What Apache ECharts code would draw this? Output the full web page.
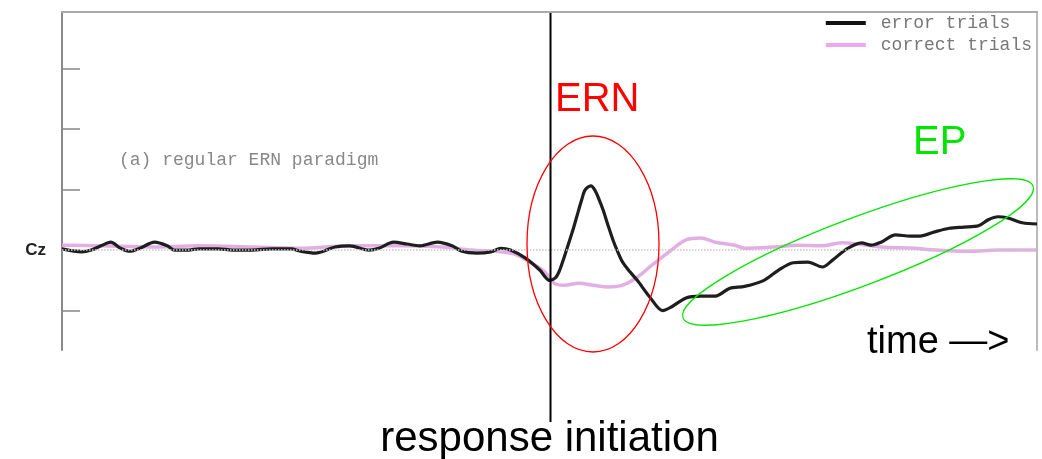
<!DOCTYPE html>
<html>
<head>
<meta charset="utf-8">
<script src="https://cdn.jsdelivr.net/npm/echarts@6/dist/echarts.min.js"></script>
<style>
  html, body { margin: 0; padding: 0; background: #fff; }
  #chart { width: 1042px; height: 459px; }
</style>
</head>
<body>
<div id="chart"></div>
<script>
// Grand-average waveform at electrode Cz, time locked to the response (0 ms).
const timesError = [-500,-480,-470,-460,-450,-440,-430,-420,-405,-392,-385,-370,-360,-340,-325,-305,-285,-265,-255,-240,-220,-205,-185,-175,-160,-146,-133,-115,-100,-90,-75,-60,-50,-40,-25,-10,0,6,10,14,19,24,29,33,36,39.5,42.5,46.5,51,55,60,65,70,75,82.5,90,103,116,125,140,155,170,185,200,220,235,250,265,280,290,305,320,330,340,355,370,380,395,410,425,440,450,460,470,485,500];
const errorTrials = [0.02,-0.03,0.0,0.07,0.13,0.03,-0.02,0.03,0.13,0.07,0.0,0.0,0.02,0.02,0.0,0.0,0.02,0.02,-0.02,-0.05,0.05,0.07,0.0,0.03,0.13,0.10,0.07,0.13,0.07,-0.02,-0.05,-0.03,0.03,0.0,-0.13,-0.33,-0.50,-0.46,-0.35,-0.17,0.08,0.33,0.61,0.83,0.98,1.04,1.06,0.99,0.83,0.66,0.41,0.17,-0.03,-0.20,-0.36,-0.50,-0.78,-1.00,-0.94,-0.79,-0.76,-0.76,-0.63,-0.60,-0.50,-0.33,-0.21,-0.20,-0.28,-0.17,0.02,0.12,0.08,0.13,0.25,0.23,0.23,0.30,0.36,0.38,0.40,0.50,0.55,0.53,0.45,0.43];

const timesCorrect = [-500,-460,-410,-360,-305,-255,-205,-155,-110,-80,-50,-35,-20,-5,5,15,30,45,60,75,90,105,125,140,155,170,190,200,230,255,280,300,315,340,375,395,430,460,500];
const correctTrials = [0.08,0.07,0.05,0.07,0.05,0.03,0.07,0.07,0.05,0.0,-0.03,-0.07,-0.20,-0.36,-0.55,-0.58,-0.55,-0.58,-0.61,-0.58,-0.45,-0.25,0.0,0.17,0.20,0.13,0.08,0.03,0.05,0.08,0.07,0.12,0.10,0.05,0.03,0.0,-0.02,0.0,0.0];

const seriesNames = ['error trials', 'correct trials'];
const yTicks = [-1, 0, 1, 2, 3];
const yLabelValues = [0];
const yLabelText = 'Cz';
const responseTime = 0;

function pairs(xs, ys) { return xs.map((x, i) => [x, ys[i]]); }

const chart = echarts.init(document.getElementById('chart'), null, { renderer: 'canvas' });

const option = {
  backgroundColor: '#ffffff',
  animation: false,
  grid: { left: 62, right: 5, top: 12, bottom: 109, containLabel: false },
  legend: {
    data: seriesNames,
    orient: 'vertical',
    right: 10,
    top: 14,
    padding: 0,
    itemGap: 4,
    itemWidth: 40,
    itemHeight: 4,
    icon: 'rect',
    textStyle: { fontFamily: 'Liberation Mono', fontSize: 18, color: '#777', padding: [0, 0, 0, 10] }
  },
  xAxis: {
    type: 'value', min: -500, max: 500, position: 'top',
    axisLine: { show: true, onZero: false, lineStyle: { color: '#aaa', width: 2 } },
    axisTick: { show: false }, axisLabel: { show: false }, splitLine: { show: false }
  },
  yAxis: [
    {
      type: 'value', min: -1.65, max: 3.93, position: 'left',
      axisLine: { show: true, onZero: false, lineStyle: { color: '#8a8a8a', width: 2 } },
      axisTick: { show: true, inside: true, length: 18, customValues: yTicks, lineStyle: { color: '#888', width: 1.5 } },
      axisLabel: {
        show: true, customValues: yLabelValues, margin: 16,
        formatter: () => yLabelText,
        fontFamily: 'Liberation Sans', fontWeight: 'bold', fontSize: 17, color: '#222'
      },
      splitLine: { show: false }
    },
    {
      type: 'value', min: -1.65, max: 3.93, position: 'right',
      axisLine: { show: true, onZero: false, lineStyle: { color: '#bbb', width: 2 } },
      axisTick: { show: false }, axisLabel: { show: false }, splitLine: { show: false }
    }
  ],
  series: [
    {
      name: seriesNames[1], type: 'line', data: pairs(timesCorrect, correctTrials),
      smooth: 0.35, showSymbol: false, z: 2,
      itemStyle: { color: '#f2a6f2' },
      lineStyle: { color: 'rgba(222,160,222,0.85)', width: 3.5 },
      markLine: {
        silent: true, symbol: 'none', label: { show: false },
        lineStyle: { color: '#c8c8c8', type: 'dotted', width: 1.5 },
        data: [{ yAxis: 0 }]
      }
    },
    {
      name: seriesNames[0], type: 'line', data: pairs(timesError, errorTrials),
      smooth: 0.3, showSymbol: false, z: 3,
      itemStyle: { color: '#111' },
      lineStyle: { color: '#1e1e1e', width: 3.2 }
    }
  ]
};
chart.setOption(option);

// Annotations: response marker, component labels and outlines.
const rx = chart.convertToPixel({ xAxisIndex: 0 }, responseTime);
chart.setOption({
  graphic: [
    { type: 'line', z: 10, shape: { x1: rx + 1, y1: 13, x2: rx + 1, y2: 422 }, style: { stroke: '#000', lineWidth: 2 } },
    { type: 'text', z: 10, style: { text: 'response initiation', x: rx, y: 439, font: '42px "Liberation Sans"', fill: '#000', align: 'center', verticalAlign: 'middle' } },
    { type: 'text', z: 10, style: { text: '(a) regular ERN paradigm', x: 119, y: 160, font: '18px "Liberation Mono"', fill: '#888', align: 'left', verticalAlign: 'middle' } },
    { type: 'text', z: 10, style: { text: 'ERN', x: 555, y: 100, font: '40px "Liberation Sans"', fill: '#ff0000', align: 'left', verticalAlign: 'middle' } },
    { type: 'ellipse', z: 10, shape: { cx: 593, cy: 244, rx: 66, ry: 108 }, style: { fill: 'none', stroke: '#ff0000', lineWidth: 1.3 } },
    { type: 'text', z: 10, style: { text: 'EP', x: 913, y: 143, font: '40px "Liberation Sans"', fill: '#00e600', align: 'left', verticalAlign: 'middle' } },
    { type: 'ellipse', z: 10, x: 858, y: 252, rotation: 0.36, shape: { cx: 0, cy: 0, rx: 187, ry: 34 }, style: { fill: 'none', stroke: '#00e600', lineWidth: 1.3 } },
    { type: 'text', z: 10, style: { text: 'time \u2014>', x: 867, y: 343, font: '38px "Liberation Sans"', fill: '#000', align: 'left', verticalAlign: 'middle' } }
  ]
});
</script>
</body>
</html>
